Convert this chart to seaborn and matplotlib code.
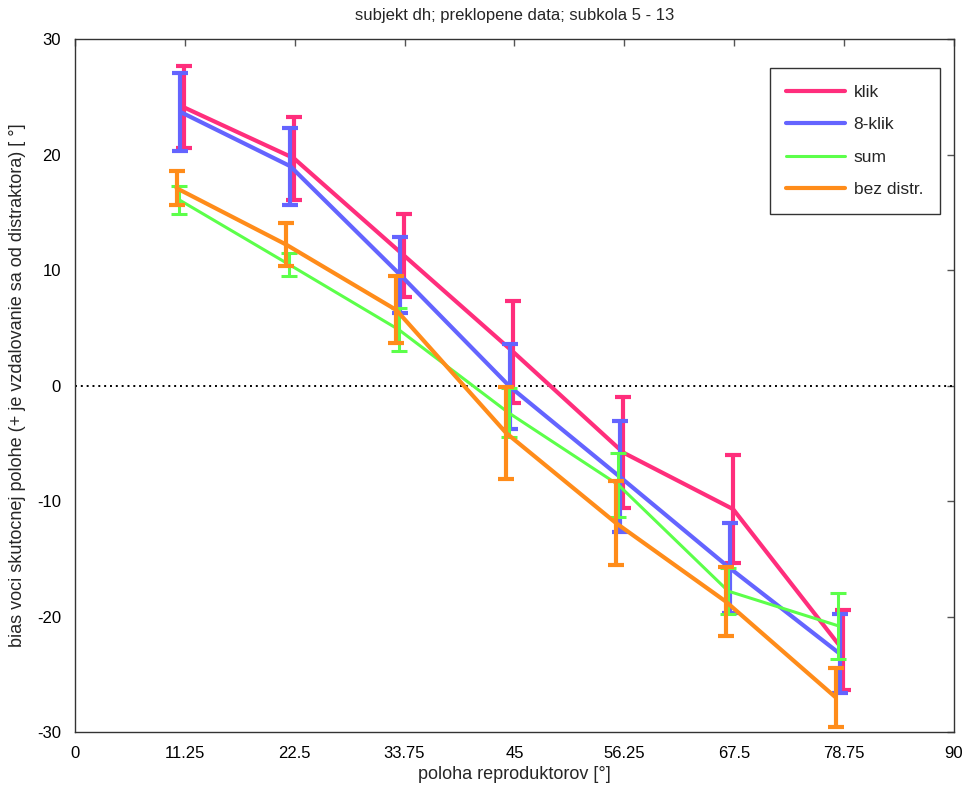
import matplotlib
matplotlib.use("Agg")
import matplotlib.pyplot as plt
import seaborn as sns
import numpy as np
import pandas as pd

# ---- data ----
positions = [11.25, 22.5, 33.75, 45, 56.25, 67.5, 78.75]
series_names = ["klik", "8-klik", "sum", "bez distr."]
klik_mean = [24.1, 19.7, 11.3, 2.9, -5.8, -10.7, -22.9]
klik_err = [3.55, 3.6, 3.6, 4.4, 4.8, 4.7, 3.5]
klik8_mean = [23.7, 19.0, 9.6, -0.1, -7.9, -15.8, -23.2]
klik8_err = [3.4, 3.35, 3.3, 3.7, 4.8, 3.9, 3.4]
sum_mean = [16.1, 10.5, 4.85, -2.35, -8.6, -17.8, -20.8]
sum_err = [1.2, 1.0, 1.85, 2.1, 2.8, 2.0, 2.85]
bez_mean = [17.1, 12.2, 6.55, -4.1, -11.9, -18.7, -27.0]
bez_err = [1.5, 1.85, 2.9, 4.0, 3.6, 3.0, 2.55]
xticks = [0, 11.25, 22.5, 33.75, 45, 56.25, 67.5, 78.75, 90]
xtick_labels = ["0", "11.25", "22.5", "33.75", "45", "56.25", "67.5", "78.75", "90"]
yticks = [-30, -20, -10, 0, 10, 20, 30]

means = [klik_mean, klik8_mean, sum_mean, bez_mean]
errs = [klik_err, klik8_err, sum_err, bez_err]

# ---- styles ----
colors = {"klik": "#ff2e7c", "8-klik": "#6464ff", "sum": "#5cff4a", "bez distr.": "#ff8c1a"}
widths = {"klik": 3.0, "8-klik": 3.0, "sum": 2.2, "bez distr.": 3.0}
offsets = {"klik": -0.1, "8-klik": -0.45, "sum": -0.6, "bez distr.": -0.85}

rows = []
for name, m, e in zip(series_names, means, errs):
    for p, mv, ev in zip(positions, m, e):
        rows.append({"series": name, "x": p + offsets[name], "y": mv, "err": ev})
df = pd.DataFrame(rows)

sns.set_theme(style="white")
plt.rcParams["font.family"] = ["Liberation Sans", "DejaVu Sans"]
plt.rcParams["axes.unicode_minus"] = False

fig = plt.figure(figsize=(9.7, 8.0), dpi=100)
ax = fig.add_axes([0.0773, 0.085, 0.906, 0.866])

ax.plot([0, 90], [0, 0], linestyle=(0, (1, 2)), color="black", linewidth=1.4, zorder=1)

for name in series_names:
    sub = df[df["series"] == name]
    sns.lineplot(data=sub, x="x", y="y", ax=ax, color=colors[name],
                 linewidth=widths[name], label=name, sort=False, estimator=None, zorder=3)
    ax.errorbar(sub["x"], sub["y"], yerr=sub["err"], fmt="none", ecolor=colors[name],
                elinewidth=widths[name], capsize=6, capthick=widths[name], zorder=3)

ax.set_xlim(0, 90)
ax.set_ylim(-30, 30)
ax.set_xticks(xticks)
ax.set_xticklabels(xtick_labels)
ax.set_yticks(yticks)
ax.tick_params(direction="in", top=True, right=True, length=5, width=1, colors="#555555",
               labelcolor="black", labelsize=12, pad=10)
for s in ax.spines.values():
    s.set_color("#333333")
    s.set_linewidth(1.0)
    s.set_visible(True)

ax.set_title("subjekt dh; preklopene data; subkola 5 - 13", fontsize=12, pad=14)
ax.set_xlabel("poloha reproduktorov [°]", fontsize=13, labelpad=4)
ax.set_ylabel("bias voci skutocnej polohe (+ je vzdalovanie sa od distraktora) [ °]", fontsize=13, labelpad=8)

leg = ax.legend(loc="upper right", bbox_to_anchor=(0.984, 0.9585), frameon=True, fontsize=12.5,
                handlelength=3.4, borderpad=0.95, labelspacing=1.0, handletextpad=0.5,
                borderaxespad=0.0, fancybox=False, edgecolor="black")
leg.get_frame().set_linewidth(1.0)

fig.savefig("out.png", dpi=100, facecolor="white")
